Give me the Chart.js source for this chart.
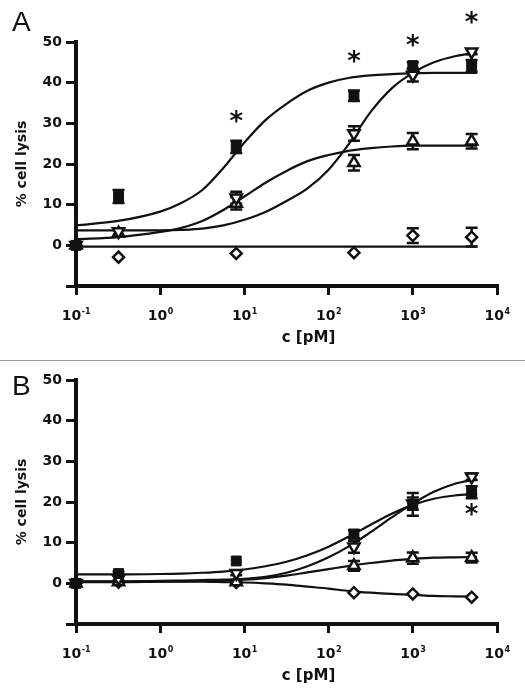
<!DOCTYPE html>
<html>
<head>
<meta charset="utf-8">
<script src="https://cdn.jsdelivr.net/npm/chart.js@4"></script>
<style>
body { margin: 0; background: #fff; }
.wrap { position: relative; width: 525px; height: 700px; }
#chartA { position: absolute; left: 0; top: 0; }
#chartB { position: absolute; left: 0; top: 361px; }
.divider { position: absolute; left: 0; top: 360px; width: 525px; height: 1px; background: #9a9a9a; }
</style>
</head>
<body>
<div class="wrap">
  <canvas id="chartA" width="525" height="359"></canvas>
  <div class="divider"></div>
  <canvas id="chartB" width="525" height="339"></canvas>
</div>
<script>
// concentrations (pM) and axis ticks
const conc = [0.1, 0.32, 8, 200, 1000, 5000];
const xTicks = [0.1, 1, 10, 100, 1000, 10000];
const xTickPowers = ["-1", "0", "1", "2", "3", "4"];
const yMin = -10;
const yMax = 50;
const yStep = 10;

const fitX = [0.1, 0.316, 1, 1.78, 3.16, 5.62, 10, 17.8, 31.6, 56.2, 100, 178, 316, 562, 1000, 1780, 3160, 5800];

// panel A
const sqA = [0, 12.0, 24.2, 36.8, 44.2, 44.1];
const sqAErr = [0, 1.6, 1.5, 1.3, 0.8, 1.5];
const dnA = [0, 3.4, 11.7, 27.5, 41.9, 47.6];
const dnAErr = [0, 0, 1.5, 1.8, 1.6, 0.6];
const upA = [0, 3.0, 10.3, 20.3, 25.6, 25.6];
const upAErr = [0, 0.8, 1.5, 1.9, 2.0, 1.8];
const diA = [0, -2.9, -2.0, -1.8, 2.4, 2.0];
const diAErr = [0, 0, 0, 0, 1.8, 2.3];
const fitSqA = [4.9, 6.0, 8.3, 10.4, 13.6, 19.0, 25.3, 30.8, 34.8, 38.0, 40.0, 41.2, 41.8, 42.1, 42.3, 42.4, 42.4, 42.4];
const fitDnA = [3.7, 3.7, 3.7, 3.8, 4.1, 4.9, 6.3, 8.2, 10.9, 14.0, 18.6, 25.2, 32.8, 38.6, 42.4, 45.0, 46.5, 47.3];
const fitUpA = [1.5, 2.0, 3.3, 4.3, 6.0, 8.7, 12.0, 15.4, 18.3, 20.7, 22.2, 23.3, 23.9, 24.3, 24.5, 24.5, 24.5, 24.5];
const fitDiA = [-0.3, -0.3, -0.3, -0.3, -0.3, -0.3, -0.3, -0.3, -0.3, -0.3, -0.3, -0.3, -0.3, -0.3, -0.3, -0.3, -0.3, -0.3];
const starAX = [8, 200, 1000, 5000];
const starAY = [31.6, 46.2, 50.1, 55.9];

// panel B
const sqB = [0, 2.4, 5.5, 12.1, 19.4, 22.4];
const sqBErr = [0, 0.5, 0, 1.0, 2.8, 1.5];
const dnB = [0, 1.2, 2.5, 9.0, 19.6, 26.2];
const dnBErr = [0, 0, 0.5, 1.5, 1.5, 0.8];
const upB = [0, 0.3, 0.3, 4.3, 6.2, 6.3];
const upBErr = [0, 0.4, 0.4, 1.2, 1.4, 1.2];
const diB = [0, 0.3, 0.2, -2.3, -2.6, -3.4];
const diBErr = [0, 0, 0, 0, 0, 0];
const fitSqB = [2.2, 2.2, 2.3, 2.4, 2.6, 2.9, 3.4, 4.2, 5.3, 6.9, 9.0, 11.6, 14.4, 17.1, 19.3, 20.8, 21.6, 22.0];
const fitDnB = [0.5, 0.5, 0.6, 0.7, 0.8, 0.9, 1.1, 1.6, 2.6, 4.2, 6.4, 9.2, 12.6, 16.2, 19.6, 22.5, 24.5, 25.6];
const fitUpB = [0.3, 0.3, 0.4, 0.5, 0.6, 0.7, 0.9, 1.3, 1.9, 2.7, 3.5, 4.3, 5.0, 5.6, 6.0, 6.3, 6.4, 6.5];
const fitDiB = [0.4, 0.4, 0.4, 0.4, 0.4, 0.3, 0.2, 0.0, -0.3, -0.8, -1.3, -1.9, -2.3, -2.6, -2.8, -3.1, -3.2, -3.3];
const starBX = [5000];
const starBY = [17.9];

const ink = "#111";
Chart.defaults.font.family = "'DejaVu Sans', sans-serif";
Chart.defaults.color = ink;

function points(xs, ys) {
  return xs.map((x, i) => ({ x: x, y: ys[i] }));
}

function marker(ys, style, filled, radius, rotation) {
  return {
    data: points(conc, ys),
    showLine: false,
    clip: false,
    pointStyle: style,
    pointRadius: radius,
    pointRotation: rotation || 0,
    pointBackgroundColor: filled ? ink : "#fff",
    pointBorderColor: ink,
    pointBorderWidth: filled ? 1 : 2.5,
  };
}

function curve(ys) {
  return {
    data: points(fitX, ys),
    showLine: true,
    clip: false,
    pointRadius: 0,
    borderColor: ink,
    borderWidth: 2.2,
    cubicInterpolationMode: "monotone",
  };
}

function extras(p) {
  return {
    id: "extras",
    beforeDatasetsDraw(chart) {
      const ctx = chart.ctx;
      const x = chart.scales.x;
      const y = chart.scales.y;
      ctx.save();
      ctx.strokeStyle = ink;
      ctx.lineWidth = 2.5;
      p.bars.forEach((b) => {
        b[0].forEach((v, i) => {
          const e = b[1][i];
          if (!e) return;
          const px = x.getPixelForValue(conc[i]);
          const top = y.getPixelForValue(v + e);
          const bot = y.getPixelForValue(v - e);
          ctx.beginPath();
          ctx.moveTo(px, top);
          ctx.lineTo(px, bot);
          ctx.moveTo(px - 6, top);
          ctx.lineTo(px + 6, top);
          ctx.moveTo(px - 6, bot);
          ctx.lineTo(px + 6, bot);
          ctx.stroke();
        });
      });
      ctx.restore();
    },
    afterDraw(chart) {
      const ctx = chart.ctx;
      const x = chart.scales.x;
      const y = chart.scales.y;
      ctx.save();
      ctx.fillStyle = ink;

      // 10^n tick labels
      const base = x.top + 34;
      xTicks.forEach((v, i) => {
        const px = x.getPixelForValue(v);
        ctx.font = "bold 14px 'DejaVu Sans'";
        const w1 = ctx.measureText("10").width;
        ctx.font = "bold 8px 'DejaVu Sans'";
        const w2 = ctx.measureText(xTickPowers[i]).width;
        const left = px - (w1 + w2) / 2;
        ctx.textAlign = "left";
        ctx.textBaseline = "alphabetic";
        ctx.font = "bold 14px 'DejaVu Sans'";
        ctx.fillText("10", left, base);
        ctx.font = "bold 8px 'DejaVu Sans'";
        ctx.fillText(xTickPowers[i], left + w1 + 0.5, base - 6);
      });

      ctx.font = "bold 15px 'DejaVu Sans'";
      ctx.textAlign = "center";
      ctx.textBaseline = "middle";
      ctx.fillText("c [pM]", 308.5, x.top + 52.5);

      ctx.font = "bold 26px 'DejaVu Sans'";
      p.starX.forEach((sx, i) => {
        ctx.fillText("*", x.getPixelForValue(sx), y.getPixelForValue(p.starY[i]) + 6);
      });

      ctx.font = "28px 'Liberation Sans'";
      ctx.textAlign = "left";
      ctx.textBaseline = "alphabetic";
      ctx.fillText(p.letter, 12, p.letterY);
      ctx.restore();
    },
  };
}

function makeChart(id, p) {
  const datasets = [
    marker(p.sq, "rect", true, 7),
    marker(p.dn, "triangle", false, 6.5, 180),
    marker(p.up, "triangle", false, 6.5),
    marker(p.di, "rectRot", false, 5.5),
    curve(p.fits[0]),
    curve(p.fits[1]),
    curve(p.fits[2]),
    curve(p.fits[3]),
  ];
  return new Chart(document.getElementById(id), {
    type: "scatter",
    data: { datasets: datasets },
    options: {
      responsive: false,
      animation: false,
      events: [],
      layout: { padding: { left: 0, right: 28, top: p.top, bottom: 0 } },
      plugins: { legend: { display: false }, tooltip: { enabled: false } },
      scales: {
        x: {
          type: "logarithmic",
          min: 0.1,
          max: 10000,
          afterBuildTicks: (s) => {
            s.ticks = xTicks.map((v) => ({ value: v }));
          },
          afterFit: (s) => {
            s.height = p.xHeight;
          },
          ticks: { display: false },
          grid: { drawOnChartArea: false, drawTicks: true, tickLength: 9, color: ink, lineWidth: 3 },
          border: { color: ink, width: 4 },
        },
        y: {
          min: yMin,
          max: yMax,
          afterFit: (s) => {
            s.width = 76;
          },
          ticks: {
            stepSize: yStep,
            padding: 4,
            color: ink,
            font: { size: 14, weight: "bold" },
            callback: (v) => (v < 0 ? "" : v),
          },
          grid: { drawOnChartArea: false, drawTicks: true, tickLength: 10, color: ink, lineWidth: 3 },
          border: { color: ink, width: 4 },
          title: {
            display: true,
            text: "% cell lysis",
            color: ink,
            font: { size: 14, weight: "bold" },
            padding: { top: 14, bottom: 0 },
          },
        },
      },
    },
    plugins: [extras(p)],
  });
}

makeChart("chartA", {
  sq: sqA, dn: dnA, up: upA, di: diA,
  bars: [[diA, diAErr], [upA, upAErr], [dnA, dnAErr], [sqA, sqAErr]],
  fits: [fitSqA, fitDnA, fitUpA, fitDiA],
  starX: starAX, starY: starAY,
  letter: "A", letterY: 31, top: 42, xHeight: 73,
});

makeChart("chartB", {
  sq: sqB, dn: dnB, up: upB, di: diB,
  bars: [[diB, diBErr], [upB, upBErr], [dnB, dnBErr], [sqB, sqBErr]],
  fits: [fitSqB, fitDnB, fitUpB, fitDiB],
  starX: starBX, starY: starBY,
  letter: "B", letterY: 34, top: 19, xHeight: 76,
});
</script>
</body>
</html>
